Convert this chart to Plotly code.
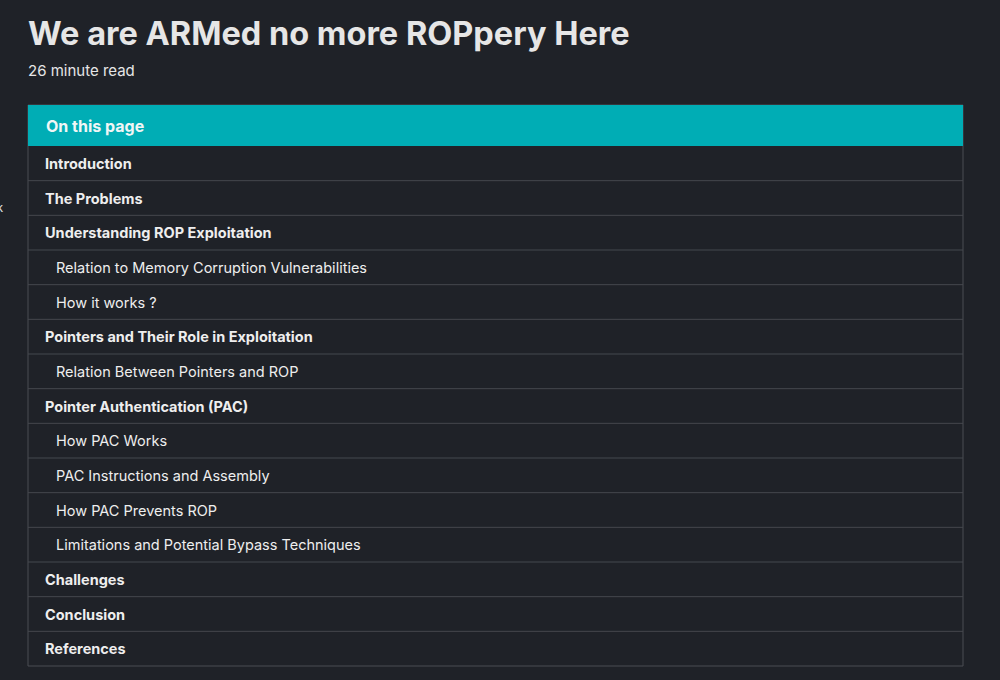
import plotly.graph_objects as go

title = "We are ARMed no more ROPpery Here"
subtitle = "26 minute read"
header = "On this page"
entries = ["Introduction", "The Problems", "Understanding ROP Exploitation",
           "Relation to Memory Corruption Vulnerabilities", "How it works ?",
           "Pointers and Their Role in Exploitation", "Relation Between Pointers and ROP",
           "Pointer Authentication (PAC)", "How PAC Works", "PAC Instructions and Assembly",
           "How PAC Prevents ROP", "Limitations and Potential Bypass Techniques",
           "Challenges", "Conclusion", "References"]
levels = [1, 1, 1, 2, 2, 1, 2, 1, 2, 2, 2, 2, 1, 1, 1]

BG = "#1f2228"
fig = go.Figure()
shapes, ann = [], []
x0, x1 = 28, 963
top, htop, bot = 105, 146, 666
rh = (bot - htop) / len(entries)
shapes.append(dict(type="rect", x0=x0, x1=x1, y0=top, y1=bot, line=dict(color="#4a4d53", width=1), fillcolor=BG, layer="below"))
shapes.append(dict(type="rect", x0=x0, x1=x1, y0=top, y1=htop, line=dict(width=0), fillcolor="#00adb5"))
ann.append(dict(x=44, y=(top + htop) / 2, text="<b>" + header + "</b>", xanchor="left", yanchor="middle", showarrow=False,
                font=dict(size=16, color="#f0f6f6", family="Inter")))
for i, (e, lv) in enumerate(zip(entries, levels)):
    y0 = htop + i * rh
    if i > 0:
        shapes.append(dict(type="line", x0=x0, x1=x1, y0=y0, y1=y0, line=dict(color="#45484e", width=1)))
    txt = "<b>" + e + "</b>" if lv == 1 else e
    ann.append(dict(x=43 if lv == 1 else 54, y=y0 + rh / 2, text=txt, xanchor="left", yanchor="middle", showarrow=False,
                    font=dict(size=14.5, color="#eeeeee", family="Inter")))
ann.append(dict(x=26, y=33, text="<b>" + title + "</b>", xanchor="left", yanchor="middle", showarrow=False,
                font=dict(size=32.5, color="#e6e6e6", family="Inter")))
ann.append(dict(x=26, y=70, text=subtitle, xanchor="left", yanchor="middle", showarrow=False,
                font=dict(size=15, color="#e6e6e6", family="Inter")))
ann.append(dict(x=0, y=208, text="k", xanchor="center", yanchor="middle", showarrow=False,
                font=dict(size=11, color="#e6e6e6", family="Inter")))

fig.update_layout(width=1000, height=680, margin=dict(l=0, r=0, t=0, b=0),
                  paper_bgcolor=BG, plot_bgcolor=BG, shapes=shapes, annotations=ann,
                  xaxis=dict(range=[0, 1000], visible=False, fixedrange=True),
                  yaxis=dict(range=[680, 0], visible=False, fixedrange=True), showlegend=False)
fig.write_html("out.html", config={"displayModeBar": False})
with open("out.html", encoding="utf-8") as f:
    html = f.read()
html = html.replace("<head>", "<head><style>html,body{margin:0;padding:0;overflow:hidden;background:%s}</style>" % BG, 1)
with open("out.html", "w", encoding="utf-8") as f:
    f.write(html)
